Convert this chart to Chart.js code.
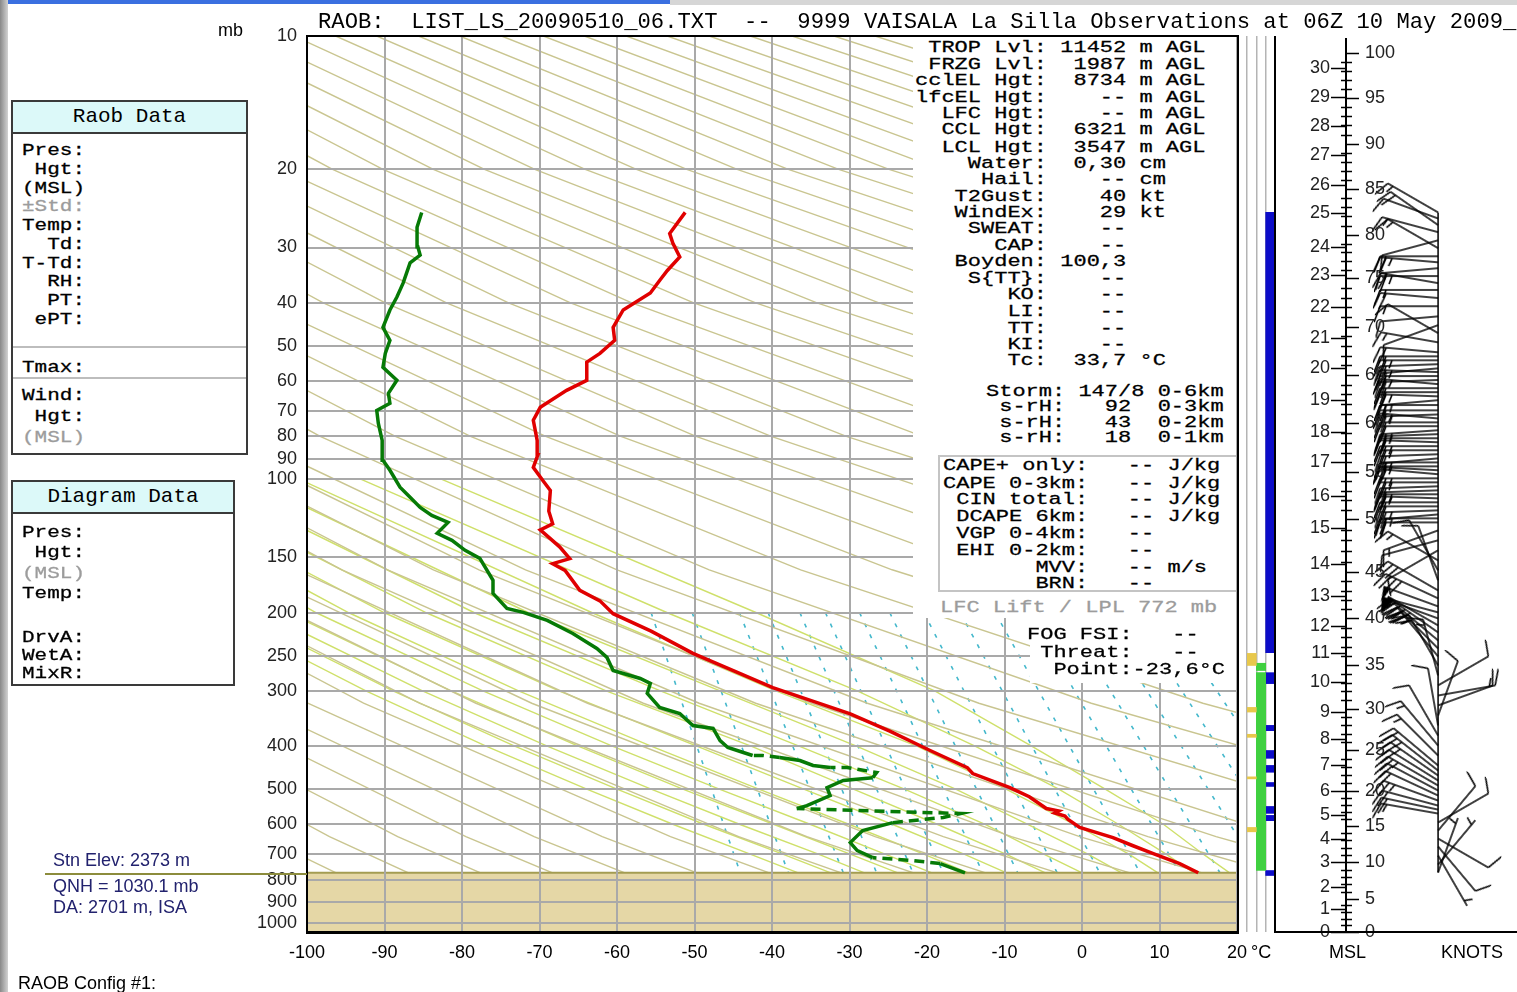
<!DOCTYPE html>
<html>
<head>
<meta charset="utf-8">
<title>RAOB La Silla 10 May 2009</title>
<script src="https://cdn.jsdelivr.net/npm/chart.js@4.4.1/dist/chart.umd.min.js"></script>
<style>
    body { margin: 0; background: #fff; width: 1517px; height: 992px; position: relative; overflow: hidden; font-family: "Liberation Sans", Arial, sans-serif; }
    canvas { position: absolute; top: 0; }
    .abs { position: absolute; white-space: pre; margin: 0; }
    .mono { font-family: "Liberation Mono", "DejaVu Sans Mono", monospace; font-size: 22px; color: #000; }
    .squash { transform: scaleY(0.78); transform-origin: 0 0; -webkit-text-stroke: 0.35px currentColor; }
    .sans { font-size: 18px; line-height: 20px; color: #000; }
    .navy { color: #22226e; }
    .gray { color: #9c9c9c; }
    .white { position: absolute; background: #fff; }
    .panel { position: absolute; border: 2px solid #3a3a3a; box-sizing: border-box; background: #fff; }
    .panel .head { background: #dcf9f9; border-bottom: 2px solid #3a3a3a; height: 30px; line-height: 30px; text-align: center; font-family: "Liberation Mono", monospace; font-size: 21px; }
    .sep { position: absolute; height: 0; border-top: 2px solid #bdbdbd; }
</style>
</head>
<body>

<div class="abs" style="left:0;top:0;width:670px;height:4px;background:#3a6fe0"></div>
<div class="abs" style="left:670px;top:0;width:847px;height:5px;background:#d6d6d6"></div>
<div class="abs" style="left:0;top:0;width:8px;height:992px;background:linear-gradient(to right,#888,#d2d2d2)"></div>

<canvas id="bgChart" width="1250" height="992" style="left:0"></canvas>
<canvas id="skewChart" width="1250" height="992" style="left:0"></canvas>
<canvas id="layerChart" width="32" height="992" style="left:1245px"></canvas>
<canvas id="windChart" width="241" height="992" style="left:1276px"></canvas>

<!-- text areas that hide the diagram -->
<div class="white" style="left:913px;top:37px;width:323px;height:581px"></div>
<div class="white" style="left:1030px;top:618px;width:206px;height:65px"></div>
<div class="abs" style="left:938px;top:455px;width:298px;height:137px;border:2px solid #c4c4c4;border-right:none;box-sizing:border-box"></div>

<!-- plot frames -->
<div class="abs" style="left:306px;top:35px;width:933px;height:899px;border:2px solid #000;box-sizing:border-box"></div>
<div class="abs" style="left:1274px;top:36px;width:243px;height:897px;border-left:2px solid #000;border-bottom:2px solid #000;box-sizing:border-box"></div>

<!-- title -->
<div class="abs mono" style="left:318px;top:11px;font-size:22.2px;line-height:24px">RAOB:  LIST_LS_20090510_06.TXT  --  9999 VAISALA La Silla Observations at 06Z 10 May 2009_</div>

<!-- index block -->
<div class="abs mono squash" style="left:915px;top:40px;line-height:21.09px"> TROP Lvl: 11452 m AGL
 FRZG Lvl:  1987 m AGL
cclEL Hgt:  8734 m AGL
lfcEL Hgt:    -- m AGL
  LFC Hgt:    -- m AGL
  CCL Hgt:  6321 m AGL
  LCL Hgt:  3547 m AGL
    Water:  0,30 cm
     Hail:    -- cm
   T2Gust:    40 kt
   WindEx:    29 kt
    SWEAT:    --
      CAP:    --
   Boyden: 100,3
    S{TT}:    --
       KO:    --
       LI:    --
       TT:    --
       KI:    --
       Tc:  33,7 °C</div>

<div class="abs mono squash" style="left:986px;top:384.2px;line-height:20.13px">Storm: 147/8 0-6km
 s-rH:   92  0-3km
 s-rH:   43  0-2km
 s-rH:   18  0-1km</div>

<div class="abs mono squash" style="left:943px;top:457.7px;line-height:21.6px">CAPE+ only:   -- J/kg
CAPE 0-3km:   -- J/kg
 CIN total:   -- J/kg
 DCAPE 6km:   -- J/kg
 VGP 0-4km:   --
 EHI 0-2km:   --
       MVV:   -- m/s
       BRN:   --</div>

<div class="abs mono squash gray" style="left:940px;top:600px;line-height:20px">LFC Lift / LPL 772 mb</div>

<div class="abs mono squash" style="left:1027px;top:626.6px;line-height:21.8px">FOG FSI:   --
 Threat:   --
  Point:-23,6°C</div>

<!-- left panels -->
<div class="panel" style="left:11px;top:100px;width:237px;height:355px"><div class="head">Raob Data</div></div>
<div class="sep" style="left:13px;top:346px;width:233px"></div>
<div class="sep" style="left:13px;top:377px;width:233px"></div>
<div class="abs mono squash" style="left:22px;top:141.7px;font-size:21px;line-height:23.97px">Pres:
 Hgt:
(MSL)
<span class="gray">±Std:</span>
Temp:
  Td:
T-Td:
  RH:
  PT:
 ePT:</div>
<div class="abs mono squash" style="left:22px;top:358.7px;font-size:21px;line-height:23.97px">Tmax:</div>
<div class="abs mono squash" style="left:22px;top:385.5px;font-size:21px;line-height:26.9px">Wind:
 Hgt:
<span class="gray">(MSL)</span></div>

<div class="panel" style="left:11px;top:480px;width:224px;height:206px"><div class="head">Diagram Data</div></div>
<div class="abs mono squash" style="left:22px;top:522.9px;font-size:21px;line-height:26px">Pres:
 Hgt:
<span class="gray">(MSL)</span>
Temp:</div>
<div class="abs mono squash" style="left:22px;top:629px;font-size:21px;line-height:23.1px">DrvA:
WetA:
MixR:</div>

<!-- station notes -->
<div class="abs sans" style="left:218px;top:20px">mb</div>
<div class="abs sans navy" style="left:53px;top:850px">Stn Elev: 2373 m</div>
<div class="abs" style="left:45px;top:873px;width:262px;height:0;border-top:2px solid #8c8c3c"></div>
<div class="abs sans navy" style="left:53px;top:876px">QNH = 1030.1 mb</div>
<div class="abs sans navy" style="left:53px;top:897px">DA: 2701 m, ISA</div>
<div class="abs sans" style="left:18px;top:973px">RAOB Config #1:</div>
<div class="abs sans" style="left:1251px;top:942px">°C</div>
<div class="abs sans" style="left:1329px;top:942px">MSL</div>
<div class="abs sans" style="left:1441px;top:942px">KNOTS</div>

<script>
// ======================================================
// Sounding
// ======================================================

const tempPressure = [772, 736, 699, 670, 643, 610, 585, 575, 566, 560, 553, 520, 496, 461, 447, 409, 370, 338, 295, 270, 247, 220, 201, 188, 178, 160.5, 155, 151, 142, 130, 126, 118, 106, 101, 94, 88, 81.7, 73.6, 68.8, 63, 59.8, 54.4, 52, 48.6, 45.4, 41.5, 38, 35.6, 33.8, 31.5, 29.3, 27.9, 25];

const tempValues = [15.0, 12.6, 9.2, 6.5, 4.0, -0.3, -1.8, -2.2, -3.5, -3.0, -4.6, -6.8, -9.3, -14.1, -14.8, -19.6, -24.8, -29.9, -39.9, -45.0, -50.2, -55.6, -60.5, -62.2, -64.8, -66.7, -68.3, -66.1, -67.4, -69.9, -68.3, -68.8, -68.6, -69.5, -70.8, -70.2, -70.3, -70.8, -69.9, -66.5, -63.9, -63.9, -62.2, -60.3, -60.5, -59.2, -55.7, -54.5, -53.5, -51.9, -52.8, -53.2, -51.2];

const dewPressure = [772, 736, 724.5, 713.5, 688, 660, 620, 595, 579, 567.5, 553, 544.5, 517, 496, 478, 471, 458.6, 446.7, 446.7, 442, 431, 424, 419.8, 419.8, 413.3, 402.7, 388.4, 364.8, 359.2, 337.5, 327.1, 304.1, 288.7, 281.4, 270, 252.2, 240.7, 222.7, 208.1, 199.6, 195.5, 180.8, 169, 150.8, 144.6, 137.3, 132.4, 125.1, 120.6, 115.7, 109.8, 104.2, 95.4, 90.6, 81.7, 74.7, 69.9, 67.4, 64.0, 59.8, 55.9, 52.0, 48.6, 45.4, 41.5, 38.8, 36.1, 32.5, 31.2, 29.9, 27.0, 25.0];

const dewValues = [-15.1, -18.3, -21.8, -27.0, -29.0, -29.9, -28.3, -24.4, -17.9, -15.7, -36.8, -35.5, -32.5, -32.9, -30.8, -27.0, -26.5, -30.3, -32.5, -34.7, -36.4, -39.0, -41.2, -42.5, -43.7, -45.7, -46.7, -47.6, -50.2, -51.9, -54.5, -56.1, -55.7, -57.0, -60.5, -61.3, -62.6, -65.7, -69.0, -72.1, -74.2, -76.0, -76.0, -77.7, -79.6, -81.3, -83.2, -81.8, -83.9, -85.4, -86.7, -88.0, -89.3, -90.2, -90.3, -90.8, -91.0, -89.3, -89.5, -88.4, -90.2, -89.9, -89.3, -90.2, -89.3, -88.4, -87.6, -86.7, -85.4, -85.7, -85.8, -85.2];

// dew point segments without measurements (start index)
const dewMissingSegments = [1, 2, 7, 8, 9, 15, 16, 17, 21, 22];

const stationPressure = 772;

// ======================================================
// Axes
// ======================================================

const tempTicks = [-100, -90, -80, -70, -60, -50, -40, -30, -20, -10, 0, 10, 20];

const pressureTicks = [10, 20, 30, 40, 50, 60, 70, 80, 90, 100, 150, 200, 250, 300, 400, 500, 600, 700, 800, 900, 1000];

// ======================================================
// Diagram background lines (temperatures at given levels)
// ======================================================

const dryLevels = [10, 20, 40, 80, 160, 320, 640, 1050];

const dryAdiabats = [
    [-222.3, -211.1, -197.5, -180.9, -160.7, -136.0, -105.9, -80.5],
    [-219.6, -207.8, -193.5, -176.0, -154.7, -128.8, -97.1, -70.3],
    [-216.9, -204.5, -189.5, -171.2, -148.8, -121.6, -88.3, -60.2],
    [-214.2, -201.3, -185.5, -166.3, -142.9, -114.3, -79.5, -50.1],
    [-211.5, -198.0, -181.5, -161.5, -137.0, -107.1, -70.7, -39.9],
    [-208.9, -194.7, -177.6, -156.6, -131.1, -99.9, -61.9, -29.8],
    [-206.2, -191.5, -173.6, -151.8, -125.1, -92.7, -53.1, -19.6],
    [-203.5, -188.2, -169.6, -146.9, -119.2, -85.5, -44.3, -9.5],
    [-200.8, -184.9, -165.6, -142.0, -113.3, -78.2, -35.5, 0.7],
    [-198.1, -181.7, -161.6, -137.2, -107.4, -71.0, -26.7, 10.8],
    [-195.5, -178.4, -157.6, -132.3, -101.4, -63.8, -17.9, 20.9],
    [-192.8, -175.1, -153.7, -127.5, -95.5, -56.6, -9.1, 31.1],
    [-190.1, -171.9, -149.7, -122.6, -89.6, -49.4, -0.3, 41.2],
    [-187.4, -168.6, -145.7, -117.8, -83.7, -42.1, 8.5, 51.4],
    [-184.7, -165.3, -141.7, -112.9, -77.8, -34.9, 17.3, 61.5],
    [-182.1, -162.1, -137.7, -108.1, -71.8, -27.7, 26.1, 71.6],
    [-176.7, -155.5, -129.8, -98.3, -60.0, -13.3, 43.7, 91.9],
    [-171.4, -149.0, -121.8, -88.6, -48.1, 1.2, 61.3, 112.2],
    [-166.0, -142.5, -113.8, -78.9, -36.3, 15.6, 78.9, 132.5],
    [-160.6, -135.9, -105.9, -69.2, -24.5, 30.1, 96.5, 152.8],
    [-155.3, -129.4, -97.9, -59.5, -12.6, 44.5, 114.1, 173.1],
    [-149.9, -122.9, -89.9, -49.8, -0.8, 58.9, 131.7, 193.3],
    [-144.6, -116.3, -82.0, -40.1, 11.1, 73.4, 149.3, 213.6],
    [-139.2, -109.8, -74.0, -30.4, 22.9, 87.8, 166.9, 233.9],
    [-133.8, -103.3, -66.0, -20.6, 34.7, 102.2, 184, 254],
    [-128.5, -96.7, -58.1, -10.9, 46.6, 116.7, 202, 274],
    [-123.1, -90.2, -50.1, -1.2, 58.4, 131, 220, 295],
    [-117.8, -83.7, -42.1, 8.5, 70.3, 145, 237, 315],
    [-112.4, -77.1, -34.2, 18.2, 82, 160, 255, 335],
    [-107.1, -70.6, -26.2, 27.9, 94, 174, 272, 356],
    [-101.7, -64.1, -18.2, 37.6, 106, 189, 290, 376],
    [-96.3, -57.5, -10.3, 47.4, 118, 203, 308, 396],
    [-91.0, -51.0, -2.3, 57, 130, 218, 325, 417],
    [-85.6, -44.5, 5.7, 67, 141, 232, 343, 437],
    [-80.3, -37.9, 13.6, 76, 153, 247, 361, 457],
    [-74.9, -31.4, 21.6, 86, 165, 261, 378, 477],
    [-69.5, -24.9, 29.6, 96, 177, 276, 396, 498],
    [-64.2, -18.3, 37.5, 106, 189, 290, 413, 518],
    [-58.8, -11.8, 45.5, 115, 201, 305, 431, 538],
    [-53.5, -5.3, 53.5, 125, 213, 319, 449, 558],
    [-48.1, 1.3, 61.4, 135, 224, 333, 466, 579],
    [-42.8, 7.8, 69.4, 144, 236, 348, 484, 599],
    [-37.4, 14.3, 77.4, 154, 248, 362, 502, 619],
    [-32.0, 20.9, 85.3, 164, 260, 377, 519, 639],
    [-26.7, 27.4, 93.3, 174, 272, 391, 537, 660],
    [-21.3, 33.9, 101.3, 183, 284, 406, 555, 680]
];

const moistLevels = [100, 200, 300, 400, 500, 600, 700, 850, 1050];

const moistAdiabats = [
    [-141.1, -112.1, -92.4, -76.9, -63.9, -52.8, -42.9, -30.5, -16.3],
    [-138.6, -109.1, -88.9, -73.2, -60.0, -48.8, -38.7, -26.3, -12.4],
    [-135.8, -105.7, -85.1, -69.0, -55.6, -44.2, -34.1, -22.2, -8.7],
    [-133.1, -102.4, -81.4, -65.0, -51.5, -39.8, -30.0, -17.7, -4.9],
    [-130.1, -98.8, -77.3, -60.6, -46.8, -35.1, -25.5, -13.4, -1.1],
    [-126.8, -94.6, -72.7, -55.6, -41.7, -30.1, -20.5, -9.0, 2.6],
    [-123.0, -90.0, -67.5, -49.7, -35.9, -24.5, -15.3, -4.3, 6.4],
    [-118.5, -84.6, -61.4, -42.7, -29.5, -18.7, -9.9, 0.3, 10.2],
    [-113.4, -78.4, -54.4, -36.5, -22.9, -12.5, -5.0, 4.9, 14.0],
    [-107.7, -71.4, -46.7, -29.1, -16.3, -7.0, 0.7, 9.4, 17.9],
    [-101.0, -63.2, -39.5, -21.3, -9.8, -1.0, 6.0, 13.5, 21.8],
    [-93.0, -53.5, -29.0, -13.8, -3.0, 4.7, 10.8, 18.0, 25.7],
    [-82.6, -42.0, -19.0, -6.5, 3.0, 10.5, 15.6, 22.4, 29.6]
];

const mixLevels = [200, 772];

const mixRatioLines = [
    [-55.6, -44.1], [-50.3, -37.9], [-44.2, -30.8], [-40.5, -26.5],
    [-36.4, -21.8], [-33.1, -17.9], [-28.7, -12.8], [-24.8, -8.3],
    [-20.4, -3.2], [-15.7, 2.3], [-11.2, 7.5], [-6.8, 12.6],
    [-2.4, 17.8], [2.1, 23.0], [6.4, 28.0], [10.7, 33.0], [15.0, 38.0], [19.3, 43.0]
];

// ======================================================
// Layer columns (pressure ranges)
// ======================================================

const layerColumns = ["Icing", "Cloud", "Turbulence"];

const icingLayers = [[247, 263], [327, 335], [376, 382], [469, 474], [610, 624]];

const cloudLayers = [[260, 270], [273, 763]];

const turbulenceLayers = [[25, 246], [273, 289], [359, 369], [409, 426], [442, 458], [483, 493], [547, 567], [573, 589], [763, 783]];

// ======================================================
// Winds and height scales
// ======================================================

const windPressure = [
    25.0, 25.8, 26.7, 27.7, 28.9, 30.1, 31.4, 32.4, 33.4, 34.8,
    36.1, 37.4, 39.0, 40.7, 42.9, 44.9, 46.8, 49.1, 51.7, 52.8,
    53.9, 55.0, 56.2, 57.3, 58.5, 59.7, 61.0, 62.3, 63.6, 65.0,
    66.3, 68.0, 69.9, 71.4, 72.9, 74.4, 75.9, 77.5, 79.1, 80.8,
    82.5, 84.2, 86.0, 87.8, 89.7, 91.6, 93.5, 95.4, 97.4, 99.5,
    101.6, 103.7, 105.9, 108.1, 110.4, 112.7, 115.1, 117.5, 120.0, 122.5,
    125.1, 130.4, 137.3, 144.6, 152.4, 160.5, 169.0, 178.1, 185.6, 193.5,
    199.6, 206, 213.6, 221.5, 230.9, 240.7, 250.9, 263, 277, 291.7,
    307.4, 323.7, 341.1, 359.2, 378.5, 398.6, 419.8, 442.2, 454, 465.8,
    478, 490.6, 503.5, 516.8, 530.5, 544.5, 556, 567.5, 594.7, 620,
    646.3, 673.6, 706, 740, 771
];

const windDirection = [
    300, 290, 305, 285, 255, 300, 270, 275, 265, 270,
    280, 270, 275, 270, 265, 250, 300, 280, 275, 270,
    270, 268, 265, 272, 270, 268, 275, 270, 270, 272,
    265, 270, 270, 268, 275, 270, 270, 266, 268, 270,
    272, 270, 270, 268, 265, 270, 270, 273, 275, 270,
    270, 268, 268, 270, 272, 270, 270, 268, 265, 270,
    270, 250, 255, 240, 300, 330, 340, 300, 295, 290,
    285, 290, 300, 305, 310, 315, 320, 330, 345, 60,
    80, 70, 20, 350, 330, 320, 315, 310, 308, 305,
    302, 300, 298, 295, 290, 285, 282, 280, 60, 40,
    120, 140, 150, 40, 20
];

const windSpeed = [
    15, 10, 20, 15, 10, 15, 20, 25, 15, 25,
    20, 15, 20, 15, 10, 10, 10, 15, 20, 20,
    25, 20, 20, 25, 20, 20, 25, 20, 20, 25,
    25, 20, 20, 25, 25, 20, 20, 25, 25, 20,
    20, 25, 25, 20, 20, 25, 25, 20, 20, 25,
    25, 20, 20, 25, 25, 20, 20, 25, 25, 20,
    20, 15, 10, 10, 15, 10, 10, 30, 40, 50,
    55, 55, 50, 45, 40, 35, 25, 20, 15, 10,
    15, 10, 10, 10, 10, 15, 15, 20, 25, 25,
    20, 25, 20, 20, 25, 20, 20, 15, 10, 10,
    10, 10, 5, 5, 5
];

const kmLabels = ["0", "1", "2", "3", "4", "5", "6", "7", "8", "9", "10", "11", "12", "13", "14", "15", "16", "17", "18", "19", "20", "21", "22", "23", "24", "25", "26", "27", "28", "29", "30"];
const kmLevels = [1050, 931, 832, 731, 647, 573, 504, 442, 385, 335, 287, 247, 214, 183, 155, 129, 109, 91.4, 78.2, 66.3, 56.2, 48.1, 40.8, 34.6, 29.9, 25.1, 21.7, 18.6, 16.0, 13.7, 11.8];

const kftLabels = ["0", "5", "10", "15", "20", "25", "30", "35", "40", "45", "50", "55", "60", "65", "70", "75", "80", "85", "90", "95", "100"];
const kftLevels = [1050, 884, 731, 604, 504, 409, 329, 263, 206, 162, 123, 96.3, 74.8, 58.2, 45.3, 35.2, 28.1, 22.1, 17.5, 13.8, 10.9];

// ======================================================
// Helpers
// ======================================================

Chart.defaults.font.family = '"Liberation Sans", Arial, sans-serif';

function levelLine(levels, temps) {
    return temps.map((t, i) => ({ x: t, y: levels[i] }));
}

function thinLine(data, color, width, dash) {
    return {
        data: data,
        showLine: true,
        borderColor: color,
        borderWidth: width,
        borderDash: dash || [],
        pointRadius: 0,
        order: 1
    };
}

// no label overhang padding, so every canvas shares one plot box
function noOverhang(scale) {
    scale.paddingLeft = 0;
    scale.paddingRight = 0;
    scale.paddingTop = 0;
    scale.paddingBottom = 0;
}

const pressureScale = {
    type: "logarithmic",
    min: 10,
    max: 1050,
    reverse: true,
    display: false
};

// ======================================================
// Background chart: adiabats, mixing ratio, ground
// ======================================================

const backgroundSets = [];

dryAdiabats.forEach(row =>
    backgroundSets.push(thinLine(levelLine(dryLevels, row), "#c9c590", 1.4))
);

moistAdiabats.forEach(row =>
    backgroundSets.push(thinLine(levelLine(moistLevels, row), "#cfe06a", 1.4))
);

mixRatioLines.forEach(row =>
    backgroundSets.push(thinLine(levelLine(mixLevels, row), "#44b8cc", 1.6, [4, 8]))
);

backgroundSets.push({
    data: [{ x: -100, y: stationPressure }, { x: 20, y: stationPressure }],
    showLine: true,
    borderColor: "#a39c52",
    borderWidth: 2,
    backgroundColor: "#e5d7a6",
    fill: { value: 1050 },
    pointRadius: 0,
    order: 0
});

new Chart(document.getElementById("bgChart"), {
    type: "scatter",
    data: { datasets: backgroundSets },
    options: {
        responsive: false,
        animation: false,
        layout: { padding: { left: 307, top: 36, right: 13, bottom: 60 } },
        scales: {
            x: { type: "linear", min: -100, max: 20, display: false },
            y: pressureScale
        },
        plugins: { legend: { display: false }, tooltip: { enabled: false } }
    }
});

// ======================================================
// Main chart: grid, axes, temperature and dew point
// ======================================================

new Chart(document.getElementById("skewChart"), {
    type: "scatter",
    data: {
        datasets: [
            {
                data: levelLine(tempPressure, tempValues),
                showLine: true,
                borderColor: "#e00000",
                borderWidth: 3.5,
                pointRadius: 0
            },
            {
                data: levelLine(dewPressure, dewValues),
                showLine: true,
                borderColor: "#067a06",
                borderWidth: 3.5,
                pointRadius: 0,
                segment: {
                    borderDash: ctx =>
                        dewMissingSegments.includes(ctx.p0DataIndex) ? [10, 6] : undefined
                }
            }
        ]
    },
    options: {
        responsive: false,
        animation: false,
        layout: { padding: { left: 250, top: 36, right: 13, bottom: 0 } },
        scales: {
            x: {
                type: "linear",
                min: -100,
                max: 20,
                afterBuildTicks: s => { s.ticks = tempTicks.map(v => ({ value: v })); },
                afterFit: s => { s.height = 60; noOverhang(s); },
                ticks: { color: "#000", font: { size: 18 }, padding: 10, maxRotation: 0, autoSkip: false },
                grid: { color: "#a9a9a9", lineWidth: 2, drawTicks: false },
                border: { color: "#000", width: 2 }
            },
            y: {
                type: "logarithmic",
                min: 10,
                max: 1050,
                reverse: true,
                afterBuildTicks: s => { s.ticks = pressureTicks.map(v => ({ value: v })); },
                afterFit: s => { s.width = 57; noOverhang(s); },
                ticks: { color: "#222", font: { size: 18 }, padding: 10, autoSkip: false, callback: v => String(v) },
                grid: { color: "#a9a9a9", lineWidth: 2, drawTicks: false },
                border: { color: "#000", width: 2 }
            }
        },
        plugins: { legend: { display: false }, tooltip: { enabled: false } }
    }
});

// ======================================================
// Layer columns
// ======================================================

function layerBars(layers, column, color) {
    return {
        data: layers.map(l => ({ x: column, y: l })),
        backgroundColor: color,
        grouped: false,
        barPercentage: 1,
        categoryPercentage: 1
    };
}

new Chart(document.getElementById("layerChart"), {
    type: "bar",
    data: {
        labels: layerColumns,
        datasets: [
            layerBars(icingLayers, layerColumns[0], "#e8c84c"),
            layerBars(cloudLayers, layerColumns[1], "#40d040"),
            layerBars(turbulenceLayers, layerColumns[2], "#0c0cc8")
        ]
    },
    options: {
        responsive: false,
        animation: false,
        layout: { padding: { left: 2, right: 2, top: 36, bottom: 60 } },
        scales: {
            x: {
                grid: { offset: true, color: "#b4b4b4", lineWidth: 1.5, drawTicks: false },
                ticks: { display: false },
                border: { display: false },
                afterFit: s => { s.height = 0; noOverhang(s); }
            },
            y: pressureScale
        },
        plugins: { legend: { display: false }, tooltip: { enabled: false } }
    }
});

// ======================================================
// Wind barbs and height scales
// ======================================================

const barbLength = 58;
const barbCache = {};

function drawBarb(knots) {

    const half = barbLength + 6;
    const c = document.createElement("canvas");
    c.width = c.height = half * 2;

    const g = c.getContext("2d");
    g.strokeStyle = "#000";
    g.fillStyle = "#000";
    g.lineWidth = 1.5;

    g.beginPath();
    g.moveTo(half, half);
    g.lineTo(half, half - barbLength);
    g.stroke();

    let y = half - barbLength;
    let rest = knots;

    while (rest >= 50) {
        g.beginPath();
        g.moveTo(half, y);
        g.lineTo(half - 16, y + 3);
        g.lineTo(half, y + 7);
        g.closePath();
        g.fill();
        y += 9;
        rest -= 50;
    }

    while (rest >= 10) {
        g.beginPath();
        g.moveTo(half, y);
        g.lineTo(half - 16, y - 6);
        g.stroke();
        y += 6;
        rest -= 10;
    }

    if (rest >= 5) {
        if (y === half - barbLength) y += 6;
        g.beginPath();
        g.moveTo(half, y);
        g.lineTo(half - 8, y - 3);
        g.stroke();
    }

    return c;
}

function barbFor(speed) {
    if (speed === undefined) return "line";
    const key = Math.round(speed / 5) * 5;
    if (!barbCache[key]) barbCache[key] = drawBarb(key);
    return barbCache[key];
}

const windColumn = 0;
const heightAxisAt = -1;

const heightAxisPlugin = {

    id: "heightAxis",

    afterDatasetsDraw(chart) {

        const { ctx, chartArea } = chart;
        const xs = chart.scales.x;
        const ys = chart.scales.y;
        const ax = Math.round(xs.getPixelForValue(heightAxisAt));

        ctx.save();
        ctx.strokeStyle = "#000";

        ctx.lineWidth = 2;
        ctx.beginPath();
        ctx.moveTo(ax, chartArea.top + 2);
        ctx.lineTo(ax, chartArea.bottom);
        ctx.stroke();

        ctx.lineWidth = 1.3;
        ctx.beginPath();

        for (let i = 0; i < kftLevels.length - 1; i++) {
            const y0 = ys.getPixelForValue(kftLevels[i]);
            const y1 = ys.getPixelForValue(kftLevels[i + 1]);
            for (let k = 1; k < 5; k++) {
                const yy = Math.round(y0 + (y1 - y0) * k / 5) + 0.5;
                ctx.moveTo(ax - 5, yy);
                ctx.lineTo(ax + 6, yy);
            }
        }

        kmLevels.forEach(p => {
            const yy = Math.round(ys.getPixelForValue(p)) + 0.5;
            ctx.moveTo(ax - 15, yy);
            ctx.lineTo(ax, yy);
        });

        kftLevels.forEach(p => {
            const yy = Math.round(ys.getPixelForValue(p)) + 0.5;
            ctx.moveTo(ax, yy);
            ctx.lineTo(ax + 13, yy);
        });

        ctx.stroke();

        ctx.fillStyle = "#222";
        ctx.font = '18px "Liberation Sans", Arial, sans-serif';
        ctx.textBaseline = "middle";

        ctx.textAlign = "right";
        kmLabels.forEach((label, i) =>
            ctx.fillText(label, ax - 16, ys.getPixelForValue(kmLevels[i]))
        );

        ctx.textAlign = "left";
        kftLabels.forEach((label, i) =>
            ctx.fillText(label, ax + 19, ys.getPixelForValue(kftLevels[i]))
        );

        ctx.restore();
    }
};

new Chart(document.getElementById("windChart"), {
    type: "scatter",
    data: {
        datasets: [
            {
                data: windPressure.map(p => ({ x: windColumn, y: p })),
                pointStyle: c => barbFor(windSpeed[c.dataIndex]),
                rotation: c => windDirection[c.dataIndex] || 0,
                pointRadius: 3,
                clip: false
            },
            {
                data: [
                    { x: windColumn, y: windPressure[0] },
                    { x: windColumn, y: windPressure[windPressure.length - 1] }
                ],
                showLine: true,
                borderColor: "#000",
                borderWidth: 1.5,
                pointRadius: 0
            }
        ]
    },
    options: {
        responsive: false,
        animation: false,
        layout: { padding: { left: 0, right: 0, top: 36, bottom: 60 } },
        scales: {
            x: { type: "linear", min: -1.7, max: 0.8, display: false },
            y: pressureScale
        },
        plugins: { legend: { display: false }, tooltip: { enabled: false } }
    },
    plugins: [heightAxisPlugin]
});
</script>
</body>
</html>
